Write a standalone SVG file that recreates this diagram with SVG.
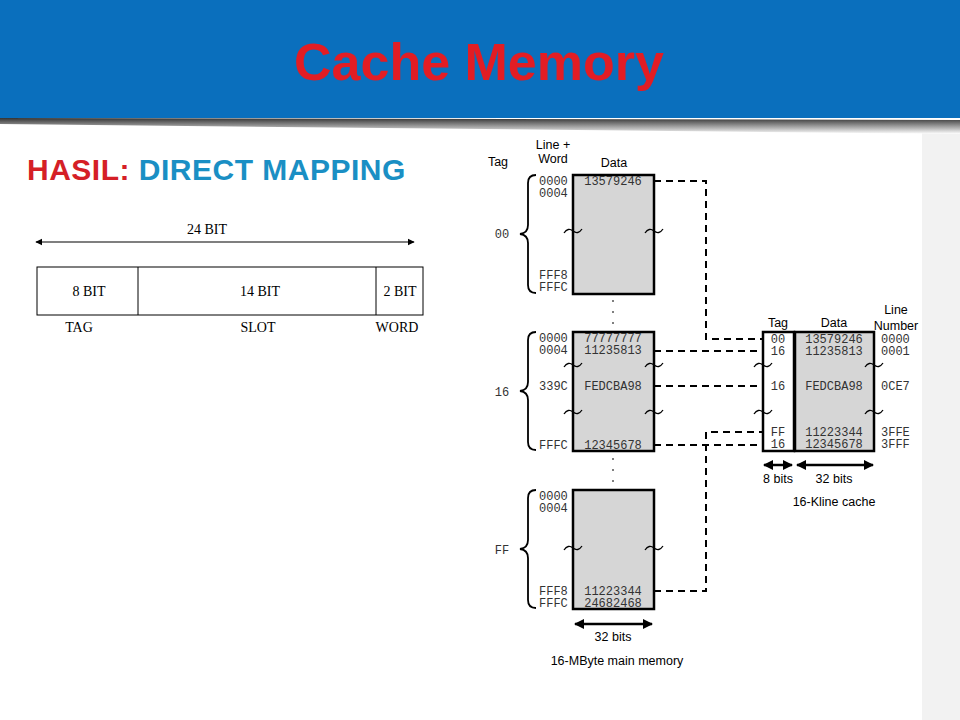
<svg xmlns="http://www.w3.org/2000/svg" width="960" height="720" viewBox="0 0 960 720">
<defs>
<linearGradient id="sh" x1="0" y1="0" x2="0" y2="1"><stop offset="0" stop-color="#333"/><stop offset="1" stop-color="#fff"/></linearGradient>
<marker id="ah" viewBox="0 0 10 10" refX="9" refY="5" markerWidth="6" markerHeight="6" orient="auto-start-reverse"><path d="M0,0L10,5L0,10z" fill="#000"/></marker>
<marker id="as" viewBox="0 0 10 10" refX="9" refY="5" markerWidth="4" markerHeight="4" orient="auto-start-reverse"><path d="M0,0L10,5L0,10z" fill="#000"/></marker>
<path id="sq" d="M-9,4 q4,-6 9,-2 t9,-2" fill="none" stroke="#000" stroke-width="1.3"/>
<g id="dots"><circle cx="0" cy="0" r="1" fill="#555"/><circle cx="0" cy="11" r="1" fill="#555"/><circle cx="0" cy="22" r="1" fill="#555"/></g>
<style>
.m{font-family:"Liberation Mono",monospace;font-size:12px;fill:#333}
.s{font-family:"Liberation Sans",Arial,sans-serif;font-size:12.5px;fill:#000}
.t{font-family:"Liberation Serif",serif;font-size:14px;fill:#000}
.box{fill:#d6d6d6;stroke:#000;stroke-width:2.5}
.wb{fill:#fff;stroke:#000;stroke-width:2.5}
.d{fill:none;stroke:#000;stroke-width:2;stroke-dasharray:7,5}
.br{fill:none;stroke:#000;stroke-width:1.8}
.ar{stroke:#000;stroke-width:2.5;marker-start:url(#as);marker-end:url(#as)}
</style>
</defs>
<rect width="960" height="720" fill="#fff"/>
<rect x="922" y="130" width="38" height="590" fill="#f2f2f2"/>
<rect width="960" height="118" fill="#0a6fbd"/>
<path d="M0,118 L960,120 L960,134 L0,124z" fill="url(#sh)"/>
<text x="479" y="80" text-anchor="middle" font-family="Liberation Sans,Arial,sans-serif" font-weight="bold" font-size="52" fill="#e21d24">Cache Memory</text>
<text x="27" y="180" font-family="Liberation Sans,Arial,sans-serif" font-weight="bold" font-size="30" letter-spacing="0.5"><tspan fill="#d51f26">HASIL: </tspan><tspan fill="#1a8fc4">DIRECT MAPPING</tspan></text>

<g id="address">
<line x1="36" y1="242" x2="414" y2="242" stroke="#000" stroke-width="1.2" marker-start="url(#ah)" marker-end="url(#ah)"/>
<text class="t" x="207" y="234" text-anchor="middle">24 BIT</text>
<rect x="37" y="267" width="386" height="48" fill="#fff" stroke="#000"/>
<line x1="138" y1="267" x2="138" y2="315" stroke="#000"/>
<line x1="376" y1="267" x2="376" y2="315" stroke="#000"/>
<text class="t" x="89" y="296" text-anchor="middle">8 BIT</text>
<text class="t" x="260" y="296" text-anchor="middle">14 BIT</text>
<text class="t" x="400" y="296" text-anchor="middle">2 BIT</text>
<text class="t" x="79" y="332" text-anchor="middle">TAG</text>
<text class="t" x="258" y="332" text-anchor="middle">SLOT</text>
<text class="t" x="397" y="332" text-anchor="middle">WORD</text>
</g>

<g id="connectors">
<polyline class="d" points="654,181 706,181 706,339 763,339"/>
<line class="d" x1="654" y1="351" x2="763" y2="351"/>
<line class="d" x1="654" y1="386" x2="763" y2="386"/>
<line class="d" x1="654" y1="445" x2="763" y2="445"/>
<polyline class="d" points="654,591 706,591 706,432 763,432"/>
</g>

<g id="headers">
<text class="s" x="553" y="149" text-anchor="middle">Line +</text>
<text class="s" x="553" y="163" text-anchor="middle">Word</text>
<text class="s" x="498" y="166" text-anchor="middle">Tag</text>
<text class="s" x="614" y="167" text-anchor="middle">Data</text>
</g>

<g id="block00">
<rect class="box" x="573" y="175" width="81" height="119"/>
<path class="br" d="M536,175 q-8,0 -8,8 v42 q0,8 -8,9 q8,1 8,9 v42 q0,8 8,8"/>
<text class="m" x="502" y="238" text-anchor="middle">00</text>
<text class="m" x="539" y="185">0000</text><text class="m" x="539" y="197">0004</text>
<text class="m" x="539" y="279">FFF8</text><text class="m" x="539" y="291">FFFC</text>
<text class="m" x="613" y="185" text-anchor="middle">13579246</text>
<use href="#sq" x="573" y="229"/><use href="#sq" x="654" y="229"/>
<use href="#dots" x="613" y="301"/>
</g>

<g id="block16">
<rect class="box" x="573" y="332" width="81" height="119"/>
<path class="br" d="M536,332 q-8,0 -8,8 v42 q0,8 -8,9 q8,1 8,9 v42 q0,8 8,8"/>
<text class="m" x="502" y="396" text-anchor="middle">16</text>
<text class="m" x="539" y="342">0000</text><text class="m" x="539" y="354">0004</text>
<text class="m" x="539" y="390">339C</text><text class="m" x="539" y="449">FFFC</text>
<text class="m" x="613" y="342" text-anchor="middle">77777777</text>
<text class="m" x="613" y="354" text-anchor="middle">11235813</text>
<text class="m" x="613" y="390" text-anchor="middle">FEDCBA98</text>
<text class="m" x="613" y="449" text-anchor="middle">12345678</text>
<use href="#sq" x="573" y="363"/><use href="#sq" x="654" y="363"/>
<use href="#sq" x="573" y="410"/><use href="#sq" x="654" y="410"/>
<use href="#dots" x="613" y="459"/>
</g>

<g id="blockFF">
<rect class="box" x="573" y="490" width="81" height="119"/>
<path class="br" d="M536,490 q-8,0 -8,8 v42 q0,8 -8,9 q8,1 8,9 v42 q0,8 8,8"/>
<text class="m" x="502" y="554" text-anchor="middle">FF</text>
<text class="m" x="539" y="500">0000</text><text class="m" x="539" y="512">0004</text>
<text class="m" x="539" y="595">FFF8</text><text class="m" x="539" y="607">FFFC</text>
<text class="m" x="613" y="595" text-anchor="middle">11223344</text>
<text class="m" x="613" y="607" text-anchor="middle">24682468</text>
<use href="#sq" x="573" y="546"/><use href="#sq" x="654" y="546"/>
<line class="ar" x1="575" y1="624" x2="652" y2="624"/>
<text class="s" x="613" y="641" text-anchor="middle" font-size="13">32 bits</text>
<text class="s" x="617" y="665" text-anchor="middle" font-size="13">16-MByte main memory</text>
</g>

<g id="cache">
<text class="s" x="778" y="327" text-anchor="middle">Tag</text>
<text class="s" x="834" y="327" text-anchor="middle">Data</text>
<text class="s" x="896" y="314" text-anchor="middle">Line</text>
<text class="s" x="896" y="330" text-anchor="middle">Number</text>
<rect class="wb" x="763" y="332" width="31" height="119"/>
<rect class="box" x="795" y="332" width="79" height="119"/>
<text class="m" x="778" y="343" text-anchor="middle">00</text><text class="m" x="778" y="355" text-anchor="middle">16</text>
<text class="m" x="778" y="390" text-anchor="middle">16</text>
<text class="m" x="778" y="436" text-anchor="middle">FF</text><text class="m" x="778" y="448" text-anchor="middle">16</text>
<text class="m" x="834" y="343" text-anchor="middle">13579246</text><text class="m" x="834" y="355" text-anchor="middle">11235813</text>
<text class="m" x="834" y="390" text-anchor="middle">FEDCBA98</text>
<text class="m" x="834" y="436" text-anchor="middle">11223344</text><text class="m" x="834" y="448" text-anchor="middle">12345678</text>
<text class="m" x="881" y="343">0000</text><text class="m" x="881" y="355">0001</text>
<text class="m" x="881" y="390">0CE7</text>
<text class="m" x="881" y="436">3FFE</text><text class="m" x="881" y="448">3FFF</text>
<use href="#sq" x="763" y="363"/><use href="#sq" x="874" y="363"/>
<use href="#sq" x="763" y="410"/><use href="#sq" x="874" y="410"/>
<line class="ar" x1="764" y1="465" x2="792" y2="465"/>
<line class="ar" x1="797" y1="465" x2="873" y2="465"/>
<text class="s" x="778" y="483" text-anchor="middle" font-size="13">8 bits</text>
<text class="s" x="834" y="483" text-anchor="middle" font-size="13">32 bits</text>
<text class="s" x="834" y="506" text-anchor="middle" font-size="13">16-Kline cache</text>
</g>
</svg>
